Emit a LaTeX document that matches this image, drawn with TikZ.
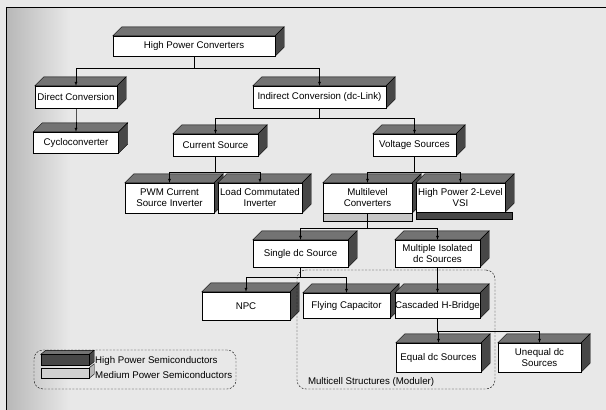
\documentclass[tikz,border=0pt]{standalone}
\usepackage{fontspec}
\setmainfont{Liberation Sans}
\usetikzlibrary{calc,arrows}
\pgfdeclarelayer{bg}
\pgfdeclarelayer{faces}
\pgfsetlayers{bg,faces,main}

\begin{document}
\begin{tikzpicture}
		[   x=1pt,y=-1pt,
		    cbox/.style n args={2}{draw=black,fill=white,inner sep=0pt,align=center,minimum width=#1,minimum height=#2,font=\fontsize{9.7}{11}\selectfont},
		    swatch/.style={draw=black,fill=#1,inner sep=0pt,minimum width=48,minimum height=10},
		    region/.style={draw=black,dash pattern=on 2pt off 1.5pt,rounded corners=9pt},
		]
		\tikzset{normal link/.style={draw,thin,-latex}}
		\tikzset{top face/.style={fill=black!55,draw=black,thin},side face/.style={fill=black!72,draw=black,thin}}
		\useasboundingbox (0,0) rectangle (606,410);
		
		\begin{pgfonlayer}{bg}
		\fill[black!9] (0,0) rectangle (606,410);
		\shade[left color=black!28,right color=black!9] (6,7) rectangle (70,410);
		\draw[thick] (606,7) -- (6,7) -- (6,410);
		\end{pgfonlayer}
		
		\node[cbox={162}{20}] (hpc) at (194,46) {High Power Converters};
		
		\node[cbox={82}{22}] (dc) at (76,97) {Direct Conversion};
		\node[cbox={133}{22}] (ic) at (319.5,97) {Indirect Conversion (dc-Link)};
		
		\node[cbox={85}{21}] (cyc) at (76,142.5) {Cycloconverter};
		\node[cbox={85}{22}] (cs) at (215.5,145) {Current Source};
		\node[cbox={83}{22}] (vs) at (414.5,145) {Voltage Sources};
		
		\node[cbox={89}{30}] (pwm) at (169.5,198) {PWM Current\\Source Inverter};
		\node[cbox={84}{30}] (lci) at (260,198) {Load Commutated\\Inverter};
		\node[cbox={89}{30}] (mlc) at (367.5,198) {Multilevel\\Converters};
		\node[cbox={89}{29}] (vsi2) at (460.5,197.5) {High Power 2-Level\\VSI};
		
		\node[cbox={95}{27}] (sdc) at (300.5,253.5) {Single dc Source};
		\node[cbox={85}{27}] (mid) at (437.5,253.5) {Multiple Isolated\\dc Sources};
		
		\node[cbox={88}{28}] (npc) at (246,306) {NPC};
		\node[cbox={87}{25}] (fc) at (346.5,305.5) {Flying Capacitor};
		\node[cbox={85}{25}] (chb) at (437.5,305.5) {Cascaded H-Bridge};
		
		\node[cbox={85}{29}] (eq) at (438.5,357.5) {Equal dc Sources};
		\node[cbox={83}{29}] (uneq) at (539.5,357.5) {Unequal dc\\Sources};
		
		\begin{pgfonlayer}{faces}
		\foreach \n in {hpc,dc,ic,cyc,cs,vs,pwm,lci,mlc,vsi2,sdc,mid,npc,fc,chb,eq,uneq}
		{
			\filldraw[top face] (\n.north west) -- ++(9,-9) -- ($(\n.north east)+(9,-9)$) -- (\n.north east) -- cycle;
			\filldraw[side face] (\n.north east) -- ++(9,-9) -- ($(\n.south east)+(9,-9)$) -- (\n.south east) -- cycle;
		}
		\filldraw[fill=black!22,draw=black,thin] (mlc.south west) rectangle ($(mlc.south east)+(0,8)$);
		\filldraw[side face] (vsi2.south west) rectangle ($(vsi2.south east)+(7,7)$);
		\end{pgfonlayer}
		
		\foreach \a/\b/\h in {hpc/dc/12,hpc/ic/12,dc/cyc/8,ic/cs/10,ic/vs/10,cs/pwm/16,cs/lci/16,vs/mlc/16,vs/vsi2/16,mlc/sdc/15,mlc/mid/15,sdc/npc/10,sdc/fc/10,mid/chb/8,chb/eq/13,chb/uneq/13}
		{
			\path[normal link] (\a.south) -- ++(0,\h) -| (\b.north);
		}
		
		\node[region,minimum width=198,minimum height=119] (mcell) at (396,329.5) {};
		\node[anchor=south west,inner sep=1pt,font=\fontsize{9.7}{11}\selectfont] (mclabel) at ($(mcell.south west)+(10,-1)$) {Multicell Structures (Moduler)};
		
		\node[region,minimum width=202,minimum height=39] (legend) at (135,369.5) {};
		\node[swatch=black!72,minimum height=11] (swhigh) at (65,360) {};
		\node[swatch=black!18] (swmed) at (65,373) {};
		\begin{pgfonlayer}{faces}
		\filldraw[top face] (swhigh.north west) -- ++(5,-4) -- ($(swhigh.north east)+(5,-4)$) -- (swhigh.north east) -- cycle;
		\filldraw[side face] (swhigh.north east) -- ++(5,-4) -- ($(swhigh.south east)+(5,-4)$) -- (swhigh.south east) -- cycle;
		\filldraw[fill=black!28,draw=black,thin] (swmed.north east) -- ++(5,-4) -- ($(swmed.south east)+(5,-4)$) -- (swmed.south east) -- cycle;
		\end{pgfonlayer}
		\node[anchor=west,inner sep=0pt,font=\fontsize{9.7}{11}\selectfont] (lhigh) at (95,361) {High Power Semiconductors};
		\node[anchor=west,inner sep=0pt,font=\fontsize{9.7}{11}\selectfont] (lmed) at (95,375) {Medium Power Semiconductors};
\end{tikzpicture}
\end{document}
